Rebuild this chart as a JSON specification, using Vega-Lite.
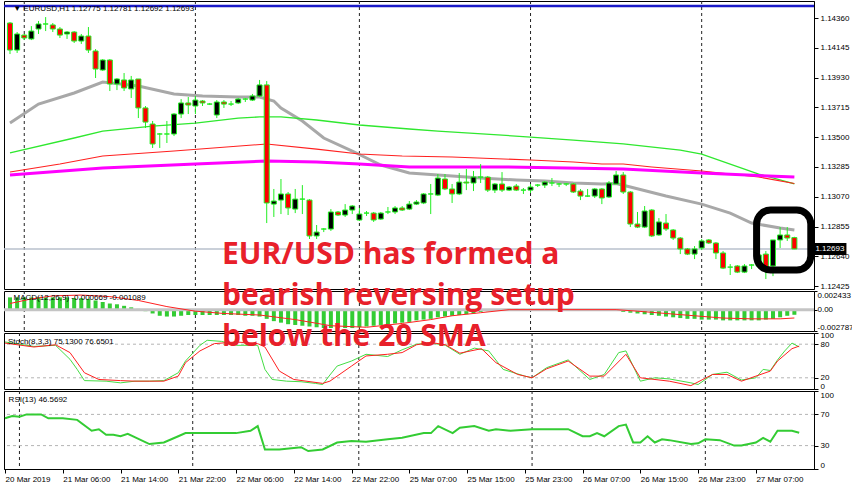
{
"$schema": "https://vega.github.io/schema/vega-lite/v6.json",
"padding": {"left": 2, "top": 0, "right": 40, "bottom": 17},
"autosize": {"type": "pad"},
"bounds": "flush",
"spacing": 2,
"background": "white",
"config": {
  "view": {"stroke": "#000000", "strokeWidth": 1},
  "axis": {"labelFont": "Liberation Sans", "labelFontSize": 8, "labelColor": "#000000", "tickColor": "#000000", "domainColor": "#000000", "tickSize": 4, "labelPadding": 2, "grid": false, "labelOverlap": false, "labelBound": false, "tickCount": 30}
},
"datasets": {
  "one": [{}],
  "candles": [
{"i":0,"o":1.14324,"h":1.14331,"l":1.14100,"c":1.14129},
{"i":1,"o":1.14129,"h":1.14259,"l":1.14108,"c":1.14245},
{"i":2,"o":1.14237,"h":1.14245,"l":1.14201,"c":1.14216},
{"i":3,"o":1.14209,"h":1.14302,"l":1.14201,"c":1.14266},
{"i":4,"o":1.14281,"h":1.14339,"l":1.14245,"c":1.14317},
{"i":5,"o":1.14317,"h":1.14367,"l":1.14266,"c":1.14317},
{"i":6,"o":1.14310,"h":1.14324,"l":1.14259,"c":1.14281},
{"i":7,"o":1.14281,"h":1.14295,"l":1.14216,"c":1.14237},
{"i":8,"o":1.14245,"h":1.14266,"l":1.14209,"c":1.14259},
{"i":9,"o":1.14259,"h":1.14266,"l":1.14180,"c":1.14194},
{"i":10,"o":1.14194,"h":1.14245,"l":1.14173,"c":1.14230},
{"i":11,"o":1.14230,"h":1.14295,"l":1.14108,"c":1.14129},
{"i":12,"o":1.14122,"h":1.14136,"l":1.13927,"c":1.13992},
{"i":13,"o":1.13985,"h":1.14064,"l":1.13978,"c":1.14057},
{"i":14,"o":1.14057,"h":1.14064,"l":1.13833,"c":1.13884},
{"i":15,"o":1.13884,"h":1.13927,"l":1.13840,"c":1.13920},
{"i":16,"o":1.13913,"h":1.13963,"l":1.13833,"c":1.13855},
{"i":17,"o":1.13848,"h":1.13942,"l":1.13783,"c":1.13913},
{"i":18,"o":1.13920,"h":1.13920,"l":1.13638,"c":1.13711},
{"i":19,"o":1.13711,"h":1.13725,"l":1.13566,"c":1.13609},
{"i":20,"o":1.13595,"h":1.13617,"l":1.13422,"c":1.13451},
{"i":21,"o":1.13523,"h":1.13530,"l":1.13422,"c":1.13523},
{"i":22,"o":1.13523,"h":1.13617,"l":1.13458,"c":1.13523},
{"i":23,"o":1.13523,"h":1.13674,"l":1.13508,"c":1.13667},
{"i":24,"o":1.13667,"h":1.13775,"l":1.13638,"c":1.13747},
{"i":25,"o":1.13747,"h":1.13790,"l":1.13667,"c":1.13732},
{"i":26,"o":1.13725,"h":1.13797,"l":1.13667,"c":1.13768},
{"i":27,"o":1.13761,"h":1.13768,"l":1.13725,"c":1.13747},
{"i":28,"o":1.13739,"h":1.13747,"l":1.13732,"c":1.13739},
{"i":29,"o":1.13660,"h":1.13768,"l":1.13638,"c":1.13754},
{"i":30,"o":1.13754,"h":1.13768,"l":1.13711,"c":1.13739},
{"i":31,"o":1.13739,"h":1.13761,"l":1.13725,"c":1.13739},
{"i":32,"o":1.13747,"h":1.13783,"l":1.13739,"c":1.13775},
{"i":33,"o":1.13775,"h":1.13783,"l":1.13754,"c":1.13775},
{"i":34,"o":1.13768,"h":1.13812,"l":1.13761,"c":1.13797},
{"i":35,"o":1.13797,"h":1.13913,"l":1.13790,"c":1.13877},
{"i":36,"o":1.13877,"h":1.13905,"l":1.12880,"c":1.13025},
{"i":37,"o":1.13017,"h":1.13126,"l":1.12924,"c":1.13039},
{"i":38,"o":1.13046,"h":1.13198,"l":1.12945,"c":1.13090},
{"i":39,"o":1.13090,"h":1.13104,"l":1.12938,"c":1.12989},
{"i":40,"o":1.12981,"h":1.13126,"l":1.12952,"c":1.13053},
{"i":41,"o":1.13053,"h":1.13154,"l":1.12945,"c":1.13053},
{"i":42,"o":1.13046,"h":1.13053,"l":1.12765,"c":1.12787},
{"i":43,"o":1.12787,"h":1.12866,"l":1.12765,"c":1.12815},
{"i":44,"o":1.12837,"h":1.12844,"l":1.12815,"c":1.12837},
{"i":45,"o":1.12837,"h":1.12981,"l":1.12823,"c":1.12960},
{"i":46,"o":1.12960,"h":1.12967,"l":1.12931,"c":1.12938},
{"i":47,"o":1.12938,"h":1.13017,"l":1.12924,"c":1.12974},
{"i":48,"o":1.12974,"h":1.13010,"l":1.12945,"c":1.13003},
{"i":49,"o":1.12902,"h":1.12989,"l":1.12895,"c":1.12945},
{"i":50,"o":1.12952,"h":1.12967,"l":1.12931,"c":1.12952},
{"i":51,"o":1.12952,"h":1.12960,"l":1.12888,"c":1.12902},
{"i":52,"o":1.12909,"h":1.12960,"l":1.12902,"c":1.12952},
{"i":53,"o":1.12960,"h":1.12996,"l":1.12945,"c":1.12960},
{"i":54,"o":1.12960,"h":1.13003,"l":1.12945,"c":1.12989},
{"i":55,"o":1.12989,"h":1.13003,"l":1.12967,"c":1.12974},
{"i":56,"o":1.12981,"h":1.13039,"l":1.12974,"c":1.13017},
{"i":57,"o":1.13017,"h":1.13046,"l":1.13010,"c":1.13032},
{"i":58,"o":1.13025,"h":1.13097,"l":1.13017,"c":1.13090},
{"i":59,"o":1.13090,"h":1.13162,"l":1.12945,"c":1.13090},
{"i":60,"o":1.13082,"h":1.13234,"l":1.13075,"c":1.13205},
{"i":61,"o":1.13198,"h":1.13234,"l":1.13118,"c":1.13126},
{"i":62,"o":1.13126,"h":1.13162,"l":1.13025,"c":1.13090},
{"i":63,"o":1.13090,"h":1.13241,"l":1.13082,"c":1.13176},
{"i":64,"o":1.13176,"h":1.13270,"l":1.13118,"c":1.13169},
{"i":65,"o":1.13169,"h":1.13256,"l":1.13111,"c":1.13212},
{"i":66,"o":1.13212,"h":1.13306,"l":1.13169,"c":1.13212},
{"i":67,"o":1.13212,"h":1.13220,"l":1.13104,"c":1.13118},
{"i":68,"o":1.13118,"h":1.13169,"l":1.13097,"c":1.13162},
{"i":69,"o":1.13162,"h":1.13248,"l":1.13104,"c":1.13118},
{"i":70,"o":1.13118,"h":1.13147,"l":1.13111,"c":1.13140},
{"i":71,"o":1.13147,"h":1.13162,"l":1.13111,"c":1.13118},
{"i":72,"o":1.13118,"h":1.13133,"l":1.13090,"c":1.13118},
{"i":73,"o":1.13118,"h":1.13162,"l":1.13097,"c":1.13140},
{"i":74,"o":1.13154,"h":1.13162,"l":1.13140,"c":1.13154},
{"i":75,"o":1.13154,"h":1.13183,"l":1.13133,"c":1.13176},
{"i":76,"o":1.13169,"h":1.13205,"l":1.13147,"c":1.13169},
{"i":77,"o":1.13162,"h":1.13169,"l":1.13140,"c":1.13162},
{"i":78,"o":1.13162,"h":1.13169,"l":1.13147,"c":1.13162},
{"i":79,"o":1.13162,"h":1.13169,"l":1.13097,"c":1.13104},
{"i":80,"o":1.13111,"h":1.13126,"l":1.13046,"c":1.13075},
{"i":81,"o":1.13075,"h":1.13126,"l":1.13068,"c":1.13075},
{"i":82,"o":1.13075,"h":1.13133,"l":1.13061,"c":1.13126},
{"i":83,"o":1.13126,"h":1.13133,"l":1.13017,"c":1.13061},
{"i":84,"o":1.13068,"h":1.13183,"l":1.13061,"c":1.13169},
{"i":85,"o":1.13162,"h":1.13256,"l":1.13162,"c":1.13227},
{"i":86,"o":1.13227,"h":1.13248,"l":1.13090,"c":1.13104},
{"i":87,"o":1.13104,"h":1.13111,"l":1.12851,"c":1.12873},
{"i":88,"o":1.12873,"h":1.12960,"l":1.12844,"c":1.12851},
{"i":89,"o":1.12851,"h":1.13003,"l":1.12844,"c":1.12967},
{"i":90,"o":1.12974,"h":1.12981,"l":1.12779,"c":1.12787},
{"i":91,"o":1.12794,"h":1.12916,"l":1.12787,"c":1.12888},
{"i":92,"o":1.12880,"h":1.12945,"l":1.12823,"c":1.12837},
{"i":93,"o":1.12830,"h":1.12837,"l":1.12758,"c":1.12772},
{"i":94,"o":1.12772,"h":1.12779,"l":1.12656,"c":1.12693},
{"i":95,"o":1.12693,"h":1.12700,"l":1.12649,"c":1.12656},
{"i":96,"o":1.12656,"h":1.12714,"l":1.12620,"c":1.12693},
{"i":97,"o":1.12700,"h":1.12765,"l":1.12685,"c":1.12751},
{"i":98,"o":1.12758,"h":1.12765,"l":1.12729,"c":1.12736},
{"i":99,"o":1.12736,"h":1.12743,"l":1.12620,"c":1.12664},
{"i":100,"o":1.12664,"h":1.12678,"l":1.12548,"c":1.12555},
{"i":101,"o":1.12562,"h":1.12584,"l":1.12505,"c":1.12562},
{"i":102,"o":1.12570,"h":1.12577,"l":1.12519,"c":1.12526},
{"i":103,"o":1.12526,"h":1.12584,"l":1.12519,"c":1.12570},
{"i":104,"o":1.12577,"h":1.12584,"l":1.12548,"c":1.12577},
{"i":105,"o":1.12570,"h":1.12664,"l":1.12562,"c":1.12650},
{"i":106,"o":1.12656,"h":1.12678,"l":1.12476,"c":1.12562},
{"i":107,"o":1.12570,"h":1.12758,"l":1.12497,"c":1.12758},
{"i":108,"o":1.12758,"h":1.12851,"l":1.12700,"c":1.12794},
{"i":109,"o":1.12794,"h":1.12851,"l":1.12751,"c":1.12772},
{"i":110,"o":1.12775,"h":1.12781,"l":1.12692,"c":1.12693}
  ],
  "sma20": [
{"i":0,"p":1.13602},{"i":4,"p":1.13739},{"i":9,"p":1.13819},{"i":13,"p":1.13898},{"i":18,"p":1.13869},{"i":23,"p":1.13812},{"i":27,"p":1.13797},{"i":32,"p":1.13790},{"i":35,"p":1.13790},{"i":37,"p":1.13761},{"i":38,"p":1.13710},{"i":41,"p":1.13617},{"i":44,"p":1.13494},{"i":48,"p":1.13400},{"i":52,"p":1.13299},{"i":56,"p":1.13241},{"i":60,"p":1.13227},{"i":66,"p":1.13205},{"i":71,"p":1.13191},{"i":75,"p":1.13183},{"i":79,"p":1.13169},{"i":83,"p":1.13162},{"i":85,"p":1.13165},{"i":87,"p":1.13140},{"i":92,"p":1.13075},{"i":97,"p":1.13017},{"i":101,"p":1.12952},{"i":104,"p":1.12880},{"i":108,"p":1.12844},{"i":110,"p":1.12830}
  ],
  "ma50": [
{"i":0,"p":1.13386},{"i":9,"p":1.13494},{"i":13,"p":1.13544},{"i":20,"p":1.13580},{"i":26,"p":1.13602},{"i":32,"p":1.13638},{"i":35,"p":1.13646},{"i":38,"p":1.13646},{"i":43,"p":1.13624},{"i":49,"p":1.13588},{"i":56,"p":1.13559},{"i":60,"p":1.13544},{"i":73,"p":1.13501},{"i":79,"p":1.13479},{"i":86,"p":1.13451},{"i":94,"p":1.13407},{"i":97,"p":1.13378},{"i":105,"p":1.13234},{"i":110,"p":1.13162}
  ],
  "ma100": [
{"i":0,"p":1.13249},{"i":7,"p":1.13306},{"i":13,"p":1.13364},{"i":23,"p":1.13400},{"i":36,"p":1.13451},{"i":43,"p":1.13414},{"i":49,"p":1.13378},{"i":55,"p":1.13364},{"i":62,"p":1.13357},{"i":73,"p":1.13335},{"i":79,"p":1.13321},{"i":83,"p":1.13306},{"i":86,"p":1.13306},{"i":90,"p":1.13285},{"i":97,"p":1.13256},{"i":105,"p":1.13212},{"i":110,"p":1.13165}
  ],
  "ma200": [
{"i":0,"p":1.13227},{"i":13,"p":1.13277},{"i":26,"p":1.13306},{"i":36,"p":1.13328},{"i":43,"p":1.13321},{"i":49,"p":1.13306},{"i":56,"p":1.13285},{"i":69,"p":1.13285},{"i":78,"p":1.13277},{"i":86,"p":1.13270},{"i":97,"p":1.13241},{"i":110,"p":1.13212}
  ],
  "seps": [{"i":2},{"i":26},{"i":49},{"i":73},{"i":97}],
  "macd": [
{"i":0,"v":0.0016},{"i":1,"v":0.0016},{"i":2,"v":0.0016},{"i":3,"v":0.0016},{"i":4,"v":0.0016},{"i":5,"v":0.0016},{"i":6,"v":0.0016},{"i":7,"v":0.0016},{"i":8,"v":0.0016},{"i":9,"v":0.0015},{"i":10,"v":0.0015},{"i":11,"v":0.0014},{"i":12,"v":0.0012},{"i":13,"v":0.0010},{"i":14,"v":0.0008},{"i":15,"v":0.0007},{"i":16,"v":0.0005},{"i":17,"v":0.0003},{"i":18,"v":0.0001},{"i":19,"v":-0.0002},{"i":20,"v":-0.0005},{"i":21,"v":-0.0008},{"i":22,"v":-0.0009},{"i":23,"v":-0.0009},{"i":24,"v":-0.0008},{"i":25,"v":-0.0007},{"i":26,"v":-0.0007},{"i":27,"v":-0.0007},{"i":28,"v":-0.0007},{"i":29,"v":-0.0007},{"i":30,"v":-0.0007},{"i":31,"v":-0.0007},{"i":32,"v":-0.0007},{"i":33,"v":-0.0008},{"i":34,"v":-0.0008},{"i":35,"v":-0.0009},{"i":36,"v":-0.0012},{"i":37,"v":-0.0015},{"i":38,"v":-0.0017},{"i":39,"v":-0.0019},{"i":40,"v":-0.0020},{"i":41,"v":-0.0021},{"i":42,"v":-0.0022},{"i":43,"v":-0.0023},{"i":44,"v":-0.0024},{"i":45,"v":-0.0024},{"i":46,"v":-0.0024},{"i":47,"v":-0.0024},{"i":48,"v":-0.0024},{"i":49,"v":-0.0023},{"i":50,"v":-0.0022},{"i":51,"v":-0.0021},{"i":52,"v":-0.0020},{"i":53,"v":-0.0019},{"i":54,"v":-0.0018},{"i":55,"v":-0.0017},{"i":56,"v":-0.0016},{"i":57,"v":-0.0014},{"i":58,"v":-0.0013},{"i":59,"v":-0.0012},{"i":60,"v":-0.0010},{"i":61,"v":-0.0009},{"i":62,"v":-0.0008},{"i":63,"v":-0.0007},{"i":64,"v":-0.0006},{"i":65,"v":-0.0005},{"i":66,"v":-0.0003},{"i":67,"v":-0.0002},{"i":68,"v":-0.0001},{"i":69,"v":0.0},{"i":70,"v":0.0001},{"i":71,"v":0.0001},{"i":72,"v":0.0001},{"i":73,"v":0.0001},{"i":74,"v":0.0001},{"i":75,"v":0.0001},{"i":76,"v":0.0001},{"i":77,"v":0.0001},{"i":78,"v":0.0001},{"i":79,"v":0.0},{"i":80,"v":0.0},{"i":81,"v":0.0},{"i":82,"v":0.0},{"i":83,"v":-0.0001},{"i":84,"v":-0.0001},{"i":85,"v":-0.0001},{"i":86,"v":-0.0003},{"i":87,"v":-0.0004},{"i":88,"v":-0.0005},{"i":89,"v":-0.0006},{"i":90,"v":-0.0007},{"i":91,"v":-0.0008},{"i":92,"v":-0.0009},{"i":93,"v":-0.0010},{"i":94,"v":-0.0011},{"i":95,"v":-0.0012},{"i":96,"v":-0.0012},{"i":97,"v":-0.0013},{"i":98,"v":-0.0013},{"i":99,"v":-0.0013},{"i":100,"v":-0.0014},{"i":101,"v":-0.0014},{"i":102,"v":-0.0014},{"i":103,"v":-0.0014},{"i":104,"v":-0.0014},{"i":105,"v":-0.0014},{"i":106,"v":-0.0013},{"i":107,"v":-0.0012},{"i":108,"v":-0.0010},{"i":109,"v":-0.0008},{"i":110,"v":-0.00067}
  ],
  "signal": [
{"i":0,"v":0.0008},{"i":3,"v":0.0014},{"i":6,"v":0.0018},{"i":10,"v":0.0019},{"i":14,"v":0.0017},{"i":18,"v":0.0012},{"i":22,"v":0.0004},{"i":26,"v":-0.0002},{"i":30,"v":-0.0005},{"i":35,"v":-0.0007},{"i":40,"v":-0.0013},{"i":45,"v":-0.0021},{"i":50,"v":-0.0023},{"i":55,"v":-0.0018},{"i":59,"v":-0.0013},{"i":62,"v":-0.0008},{"i":66,"v":-0.0004},{"i":70,"v":0.0},{"i":75,"v":0.0},{"i":85,"v":0.0},{"i":88,"v":-0.0002},{"i":92,"v":-0.0005},{"i":96,"v":-0.0008},{"i":100,"v":-0.0011},{"i":104,"v":-0.0012},{"i":108,"v":-0.0012},{"i":110,"v":-0.00109}
  ],
  "stochK": [
{"i":0,"v":84},{"i":4,"v":76},{"i":7,"v":78},{"i":9,"v":53},{"i":10,"v":35},{"i":11,"v":15},{"i":14,"v":14},{"i":16,"v":11},{"i":18,"v":14},{"i":20,"v":14},{"i":22,"v":15},{"i":24,"v":29},{"i":25,"v":50},{"i":27,"v":78},{"i":28,"v":87},{"i":30,"v":85},{"i":32,"v":78},{"i":35,"v":78},{"i":36,"v":35},{"i":37,"v":17},{"i":39,"v":14},{"i":41,"v":13},{"i":43,"v":10},{"i":44,"v":8},{"i":45,"v":25},{"i":46,"v":41},{"i":48,"v":50},{"i":50,"v":62},{"i":53,"v":58},{"i":55,"v":70},{"i":57,"v":80},{"i":59,"v":82},{"i":61,"v":78},{"i":63,"v":62},{"i":65,"v":73},{"i":67,"v":68},{"i":69,"v":35},{"i":72,"v":23},{"i":73,"v":20},{"i":75,"v":38},{"i":78,"v":52},{"i":81,"v":17},{"i":83,"v":26},{"i":85,"v":65},{"i":86,"v":68},{"i":88,"v":14},{"i":90,"v":20},{"i":92,"v":18},{"i":95,"v":11},{"i":96,"v":8},{"i":98,"v":26},{"i":100,"v":30},{"i":102,"v":16},{"i":104,"v":20},{"i":105,"v":35},{"i":106,"v":33},{"i":107,"v":52},{"i":108,"v":68},{"i":109,"v":82},{"i":110,"v":75.13}
  ],
  "stochD": [
{"i":0,"v":82},{"i":4,"v":75},{"i":7,"v":79},{"i":9,"v":65},{"i":11,"v":29},{"i":13,"v":17},{"i":16,"v":15},{"i":18,"v":14},{"i":22,"v":14},{"i":24,"v":23},{"i":25,"v":47},{"i":27,"v":68},{"i":29,"v":81},{"i":32,"v":84},{"i":35,"v":81},{"i":36,"v":75},{"i":38,"v":32},{"i":40,"v":17},{"i":44,"v":10},{"i":45,"v":14},{"i":48,"v":41},{"i":50,"v":59},{"i":53,"v":62},{"i":55,"v":65},{"i":57,"v":79},{"i":59,"v":83},{"i":61,"v":79},{"i":63,"v":64},{"i":66,"v":72},{"i":68,"v":47},{"i":71,"v":26},{"i":73,"v":20},{"i":75,"v":36},{"i":78,"v":50},{"i":81,"v":23},{"i":83,"v":23},{"i":86,"v":62},{"i":88,"v":20},{"i":92,"v":14},{"i":95,"v":6},{"i":98,"v":26},{"i":100,"v":26},{"i":102,"v":14},{"i":106,"v":32},{"i":107,"v":50},{"i":109,"v":72},{"i":110,"v":76.65}
  ],
  "rsi": [
{"i":0,"v":65},{"i":1,"v":68},{"i":2,"v":67},{"i":3,"v":70},{"i":5,"v":70},{"i":6,"v":65},{"i":8,"v":65},{"i":10,"v":63},{"i":12,"v":49},{"i":13,"v":51},{"i":14,"v":44},{"i":15,"v":44},{"i":16,"v":42},{"i":17,"v":45},{"i":20,"v":32},{"i":22,"v":34},{"i":24,"v":42},{"i":25,"v":46},{"i":32,"v":46},{"i":34,"v":49},{"i":35,"v":55},{"i":36,"v":25},{"i":38,"v":25},{"i":39,"v":26},{"i":41,"v":28},{"i":42,"v":23},{"i":44,"v":25},{"i":46,"v":34},{"i":48,"v":36},{"i":50,"v":35},{"i":53,"v":38},{"i":55,"v":40},{"i":58,"v":46},{"i":59,"v":46},{"i":60,"v":55},{"i":62,"v":46},{"i":63,"v":53},{"i":65,"v":55},{"i":67,"v":49},{"i":68,"v":51},{"i":70,"v":49},{"i":73,"v":51},{"i":78,"v":51},{"i":80,"v":42},{"i":81,"v":42},{"i":82,"v":46},{"i":83,"v":42},{"i":85,"v":55},{"i":86,"v":57},{"i":87,"v":34},{"i":88,"v":34},{"i":89,"v":42},{"i":90,"v":34},{"i":91,"v":38},{"i":92,"v":37},{"i":95,"v":32},{"i":96,"v":33},{"i":97,"v":38},{"i":99,"v":37},{"i":101,"v":30},{"i":102,"v":30},{"i":104,"v":34},{"i":105,"v":40},{"i":106,"v":35},{"i":107,"v":49},{"i":109,"v":49},{"i":110,"v":46.57}
  ]
},
"vconcat": [
{
  "width": 810, "height": 288,
  "layer": [
    {"data": {"name": "seps"}, "mark": {"type": "rule", "color": "#222222", "strokeWidth": 1, "strokeDash": [3, 3]},
     "encoding": {"x": {"field": "i", "type": "quantitative", "scale": {"domain": [-0.14, 112.05], "nice": false, "zero": false}, "axis": null}}},
    {"data": {"name": "one"}, "mark": {"type": "rule", "color": "#1a1ac8", "strokeWidth": 2.5},
     "encoding": {"y": {"datum": 1.14447, "type": "quantitative", "scale": {"domain": [1.12404, 1.14483], "nice": false, "zero": false}}}},
    {"data": {"name": "one"}, "mark": {"type": "rule", "color": "#b8c0cc", "strokeWidth": 1.5},
     "encoding": {"y": {"datum": 1.12693, "type": "quantitative", "scale": {"domain": [1.12404, 1.14483], "nice": false, "zero": false}}}},
    {"data": {"name": "sma20"}, "mark": {"type": "line", "color": "#a8a8a8", "strokeWidth": 3, "clip": true},
     "encoding": {"x": {"field": "i", "type": "quantitative", "scale": {"domain": [-0.14, 112.05], "nice": false, "zero": false}, "axis": null},
                  "y": {"field": "p", "type": "quantitative", "scale": {"domain": [1.12404, 1.14483], "nice": false, "zero": false}}}},
    {"data": {"name": "ma50"}, "mark": {"type": "line", "color": "#2fe82f", "strokeWidth": 1.3, "clip": true},
     "encoding": {"x": {"field": "i", "type": "quantitative", "scale": {"domain": [-0.14, 112.05], "nice": false, "zero": false}, "axis": null},
                  "y": {"field": "p", "type": "quantitative", "scale": {"domain": [1.12404, 1.14483], "nice": false, "zero": false}}}},
    {"data": {"name": "ma100"}, "mark": {"type": "line", "color": "#ff2020", "strokeWidth": 1.1, "clip": true},
     "encoding": {"x": {"field": "i", "type": "quantitative", "scale": {"domain": [-0.14, 112.05], "nice": false, "zero": false}, "axis": null},
                  "y": {"field": "p", "type": "quantitative", "scale": {"domain": [1.12404, 1.14483], "nice": false, "zero": false}}}},
    {"data": {"name": "ma200"}, "mark": {"type": "line", "color": "#ff00ff", "strokeWidth": 3, "clip": true},
     "encoding": {"x": {"field": "i", "type": "quantitative", "scale": {"domain": [-0.14, 112.05], "nice": false, "zero": false}, "axis": null},
                  "y": {"field": "p", "type": "quantitative", "scale": {"domain": [1.12404, 1.14483], "nice": false, "zero": false}}}},
    {"data": {"name": "candles"}, "mark": {"type": "rule", "color": "#22ee22", "strokeWidth": 1, "clip": true},
     "encoding": {"x": {"field": "i", "type": "quantitative", "scale": {"domain": [-0.14, 112.05], "nice": false, "zero": false}, "axis": null},
                  "y": {"field": "l", "type": "quantitative", "scale": {"domain": [1.12404, 1.14483], "nice": false, "zero": false},
                        "axis": {"orient": "right", "title": null, "values": [1.1436, 1.14145, 1.1393, 1.13715, 1.135, 1.13285, 1.1307, 1.12855, 1.1264, 1.12425], "format": ".5f", "labelOverlap": false, "tickCount": 30}},
                  "y2": {"field": "h"}}},
    {"data": {"name": "candles"}, "mark": {"type": "bar", "width": 5, "stroke": "#22ee22", "strokeWidth": 1, "clip": true},
     "encoding": {"x": {"field": "i", "type": "quantitative", "scale": {"domain": [-0.14, 112.05], "nice": false, "zero": false}, "axis": null},
                  "y": {"field": "o", "type": "quantitative", "scale": {"domain": [1.12404, 1.14483], "nice": false, "zero": false}},
                  "y2": {"field": "c"},
                  "fill": {"condition": {"test": "datum.c > datum.o", "value": "#000000"}, "value": "#ff0000"}}},
    {"data": {"name": "one"}, "mark": {"type": "rect", "filled": false, "stroke": "#000000", "strokeWidth": 7, "cornerRadius": 14, "clip": false},
     "encoding": {"x": {"datum": 104.7, "type": "quantitative", "scale": {"domain": [-0.14, 112.05], "nice": false, "zero": false}, "axis": null},
                  "x2": {"datum": 112.3},
                  "y": {"datum": 1.12974, "type": "quantitative", "scale": {"domain": [1.12404, 1.14483], "nice": false, "zero": false}},
                  "y2": {"datum": 1.12541}}},
    {"data": {"name": "one"}, "mark": {"type": "rect", "fill": "#000000", "clip": false},
     "encoding": {"x": {"datum": 112.74, "type": "quantitative", "scale": {"domain": [-0.14, 112.05], "nice": false, "zero": false}, "axis": null},
                  "x2": {"datum": 117.3},
                  "y": {"datum": 1.12736, "type": "quantitative", "scale": {"domain": [1.12404, 1.14483], "nice": false, "zero": false}},
                  "y2": {"datum": 1.1265}}},
    {"data": {"name": "one"}, "mark": {"type": "text", "text": "1.12693", "color": "#ffffff", "font": "Liberation Sans", "fontSize": 8, "align": "left", "baseline": "middle", "clip": false},
     "encoding": {"x": {"datum": 112.95, "type": "quantitative", "scale": {"domain": [-0.14, 112.05], "nice": false, "zero": false}, "axis": null},
                  "y": {"datum": 1.12693, "type": "quantitative", "scale": {"domain": [1.12404, 1.14483], "nice": false, "zero": false}}}},
    {"data": {"name": "one"}, "mark": {"type": "text", "text": "▼ EURUSD,H1  1.12775 1.12781 1.12692 1.12693", "color": "#000000", "font": "Liberation Sans", "fontSize": 8, "align": "left", "baseline": "top"},
     "encoding": {"x": {"datum": 0.45, "type": "quantitative", "scale": {"domain": [-0.14, 112.05], "nice": false, "zero": false}, "axis": null},
                  "y": {"datum": 1.14451, "type": "quantitative", "scale": {"domain": [1.12404, 1.14483], "nice": false, "zero": false}}}}
  ]
},
{
  "width": 810, "height": 40,
  "layer": [
    {"data": {"name": "seps"}, "mark": {"type": "rule", "color": "#222222", "strokeWidth": 1, "strokeDash": [3, 3]},
     "encoding": {"x": {"field": "i", "type": "quantitative", "scale": {"domain": [-0.14, 112.05], "nice": false, "zero": false}, "axis": null}}},
    {"data": {"name": "macd"}, "mark": {"type": "bar", "width": 4, "color": "#33cc33", "clip": true},
     "encoding": {"x": {"field": "i", "type": "quantitative", "scale": {"domain": [-0.14, 112.05], "nice": false, "zero": false}, "axis": null},
                  "y": {"field": "v", "type": "quantitative", "scale": {"domain": [-0.002787, 0.002433], "nice": false, "zero": false},
                        "axis": {"orient": "right", "title": null, "values": [0.002433, 0, -0.002787], "labelFlush": true, "labelOverlap": false, "labelPadding": 0, "tickSize": 3, "tickCount": 30,
                                 "labelExpr": "datum.value == 0 ? '0.00' : replace(format(datum.value, '.6f'), '\u2212', '-')"}},
                  "y2": {"datum": 0}}},
    {"data": {"name": "one"}, "mark": {"type": "rule", "color": "#c4c4c4", "strokeWidth": 3},
     "encoding": {"y": {"datum": 0, "type": "quantitative", "scale": {"domain": [-0.002787, 0.002433], "nice": false, "zero": false}}}},
    {"data": {"name": "signal"}, "mark": {"type": "line", "color": "#ff2020", "strokeWidth": 1, "clip": true},
     "encoding": {"x": {"field": "i", "type": "quantitative", "scale": {"domain": [-0.14, 112.05], "nice": false, "zero": false}, "axis": null},
                  "y": {"field": "v", "type": "quantitative", "scale": {"domain": [-0.002787, 0.002433], "nice": false, "zero": false}}}},
    {"data": {"name": "one"}, "mark": {"type": "text", "text": "MACD(12,26,9) -0.000669 -0.001089", "color": "#000000", "font": "Liberation Sans", "fontSize": 8, "align": "left", "baseline": "top"},
     "encoding": {"x": {"datum": 0.5, "type": "quantitative", "scale": {"domain": [-0.14, 112.05], "nice": false, "zero": false}, "axis": null},
                  "y": {"datum": 0.00199, "type": "quantitative", "scale": {"domain": [-0.002787, 0.002433], "nice": false, "zero": false}}}}
  ]
},
{
  "width": 810, "height": 56,
  "layer": [
    {"data": {"name": "seps"}, "mark": {"type": "rule", "color": "#222222", "strokeWidth": 1, "strokeDash": [3, 3]},
     "encoding": {"x": {"field": "i", "type": "quantitative", "scale": {"domain": [-0.14, 112.05], "nice": false, "zero": false}, "axis": null}}},
    {"data": {"values": [{"lv": 20}, {"lv": 80}]}, "mark": {"type": "rule", "color": "#b4b4b4", "strokeWidth": 1, "strokeDash": [3, 3]},
     "encoding": {"y": {"field": "lv", "type": "quantitative", "scale": {"domain": [0, 100], "nice": false, "zero": false}}}},
    {"data": {"name": "stochK"}, "mark": {"type": "line", "color": "#44dd44", "strokeWidth": 1, "clip": true},
     "encoding": {"x": {"field": "i", "type": "quantitative", "scale": {"domain": [-0.14, 112.05], "nice": false, "zero": false}, "axis": null},
                  "y": {"field": "v", "type": "quantitative", "scale": {"domain": [0, 100], "nice": false, "zero": false},
                        "axis": {"orient": "right", "title": null, "values": [0, 20, 80, 100], "labelFlush": true, "labelFlushOffset": 1.5, "labelOverlap": false, "tickCount": 30}}}},
    {"data": {"name": "stochD"}, "mark": {"type": "line", "color": "#ff2020", "strokeWidth": 1, "clip": true},
     "encoding": {"x": {"field": "i", "type": "quantitative", "scale": {"domain": [-0.14, 112.05], "nice": false, "zero": false}, "axis": null},
                  "y": {"field": "v", "type": "quantitative", "scale": {"domain": [0, 100], "nice": false, "zero": false}}}},
    {"data": {"name": "one"}, "mark": {"type": "text", "text": "Stoch(8,3,3) 75.1300 76.6501", "color": "#000000", "font": "Liberation Sans", "fontSize": 8, "align": "left", "baseline": "top"},
     "encoding": {"x": {"datum": 0.4, "type": "quantitative", "scale": {"domain": [-0.14, 112.05], "nice": false, "zero": false}, "axis": null},
                  "y": {"datum": 90.9, "type": "quantitative", "scale": {"domain": [0, 100], "nice": false, "zero": false}}}}
  ]
},
{
  "width": 810, "height": 78,
  "layer": [
    {"data": {"name": "seps"}, "mark": {"type": "rule", "color": "#222222", "strokeWidth": 1, "strokeDash": [3, 3]},
     "encoding": {"x": {"field": "i", "type": "quantitative", "scale": {"domain": [-0.14, 112.05], "nice": false, "zero": false}}}},
    {"data": {"values": [{"lv": 30}, {"lv": 70}]}, "mark": {"type": "rule", "color": "#b4b4b4", "strokeWidth": 1, "strokeDash": [3, 3]},
     "encoding": {"y": {"field": "lv", "type": "quantitative", "scale": {"domain": [0, 100], "nice": false, "zero": false}}}},
    {"data": {"name": "rsi"}, "mark": {"type": "line", "color": "#33cc33", "strokeWidth": 2, "clip": true},
     "encoding": {"x": {"field": "i", "type": "quantitative", "scale": {"domain": [-0.14, 112.05], "nice": false, "zero": false},
                        "axis": {"orient": "bottom", "title": null, "values": [0, 8, 16, 24, 32, 40, 48, 56, 64, 72, 80, 88, 96, 104], "labelAlign": "left", "labelOverlap": false, "labelBound": false, "labelFlush": false, "tickCount": 30,
                                 "labelExpr": "['20 Mar 2019','21 Mar 06:00','21 Mar 14:00','21 Mar 22:00','22 Mar 06:00','22 Mar 14:00','22 Mar 22:00','25 Mar 07:00','25 Mar 15:00','25 Mar 23:00','26 Mar 07:00','26 Mar 15:00','26 Mar 23:00','27 Mar 07:00'][round(datum.value / 8)]"}},
                  "y": {"field": "v", "type": "quantitative", "scale": {"domain": [0, 100], "nice": false, "zero": false},
                        "axis": {"orient": "right", "title": null, "values": [0, 30, 70, 100], "labelFlush": true, "labelOverlap": false, "tickCount": 30}}}},
    {"data": {"name": "one"}, "mark": {"type": "text", "text": "RSI(13) 46.5692", "color": "#000000", "font": "Liberation Sans", "fontSize": 8, "align": "left", "baseline": "top"},
     "encoding": {"x": {"datum": 0.5, "type": "quantitative", "scale": {"domain": [-0.14, 112.05], "nice": false, "zero": false}},
                  "y": {"datum": 93.1, "type": "quantitative", "scale": {"domain": [0, 100], "nice": false, "zero": false}}}},
    {"data": {"name": "one"}, "mark": {"type": "text", "text": ["EUR/USD has formed a", "bearish reversing setup", "below the 20 SMA"], "lineHeight": 41, "color": "#e8202a", "font": "Open Sans", "fontWeight": "bold", "fontSize": 30, "align": "left", "baseline": "alphabetic", "clip": false},
     "encoding": {"x": {"datum": 30.05, "type": "quantitative", "scale": {"domain": [-0.14, 112.05], "nice": false, "zero": false}},
                  "y": {"datum": 262.8, "type": "quantitative", "scale": {"domain": [0, 100], "nice": false, "zero": false}}}}
  ]
}
]
}
